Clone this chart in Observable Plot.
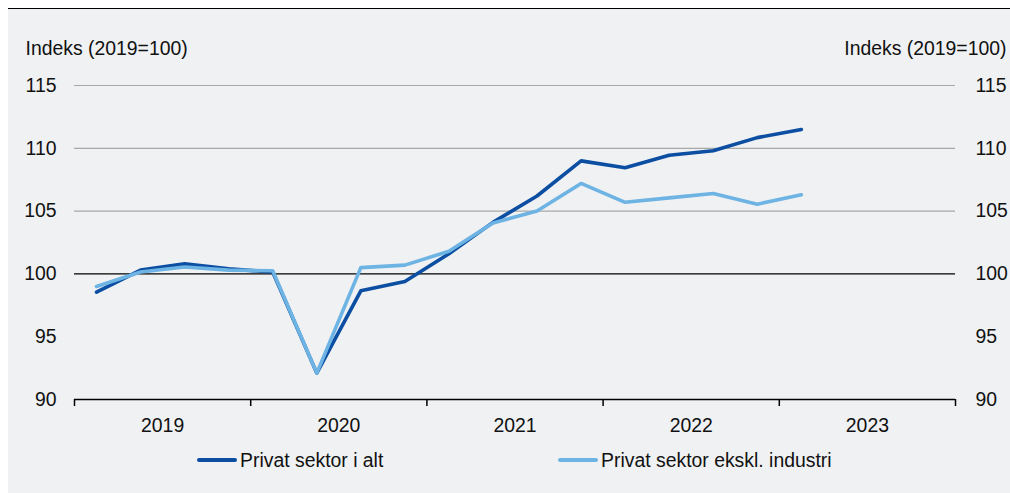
<!DOCTYPE html>
<html>
<head>
<meta charset="utf-8">
<script src="https://cdn.jsdelivr.net/npm/d3@7"></script>
<script src="https://cdn.jsdelivr.net/npm/@observablehq/plot@0.6"></script>
<style>
  html, body { margin: 0; padding: 0; background: #ffffff; }
  #wrap {
    position: absolute; left: 8px; top: 8px; width: 1002px; height: 485px;
    border-top: 1.5px solid #000; background: #f0f1f3;
    font-family: "Liberation Sans", Arial, sans-serif;
  }
  #chart svg { display: block; }
  #legend { position: relative; height: 40px; font-size: 19.4px; color: #111; }
  .item { position: absolute; top: 0; height: 40px; display: flex; align-items: center; }
  .sw { width: 40px; height: 4px; border-radius: 2px; margin-right: 3px; }
</style>
</head>
<body>
<div id="wrap">
  <div id="chart"></div>
  <div id="legend"></div>
</div>
<script>
const quarters = ["2019K1","2019K2","2019K3","2019K4","2020K1","2020K2","2020K3","2020K4",
  "2021K1","2021K2","2021K3","2021K4","2022K1","2022K2","2022K3","2022K4","2023K1"];
const privatIAlt = [98.55,100.3,100.8,100.4,100.15,92.1,98.65,99.4,101.6,104.1,106.2,109.0,108.45,109.45,109.8,110.85,111.5];
const privatEksklIndustri = [99.0,100.15,100.55,100.3,100.25,92.1,100.5,100.7,101.8,104.05,105.0,107.2,105.7,106.05,106.4,105.55,106.3];
const seriesNames = ["Privat sektor i alt","Privat sektor ekskl. industri"];
const seriesColors = ["#0b4ea2","#6db3e3"];
const years = [2019,2020,2021,2022,2023];
const yTicks = [90,95,100,105,110,115];
const axisTitle = "Indeks (2019=100)";

const qx = q => +q.slice(0,4) + (+q.slice(5) - 0.5) / 4;
const data = [];
[privatIAlt, privatEksklIndustri].forEach((vals, i) =>
  vals.forEach((v, j) => data.push({x: qx(quarters[j]), y: v, s: seriesNames[i]})));

const chart = Plot.plot({
  width: 1002, height: 431,
  marginLeft: 66, marginRight: 55, marginTop: 76, marginBottom: 41,
  style: {fontFamily: "Liberation Sans, Arial, sans-serif", fontSize: "19.4px", color: "#111", background: "transparent"},
  x: {domain: [2019, 2024], type: "linear", label: null},
  y: {domain: [90, 115], label: null},
  color: {domain: seriesNames, range: seriesColors},
  marks: [
    Plot.ruleY([105,110,115], {stroke: "#a8a8a8", strokeWidth: 1.2}),
    Plot.ruleY([100], {stroke: "#000", strokeWidth: 1.2}),
    Plot.ruleY([90], {stroke: "#000", strokeWidth: 1.5}),
    Plot.axisX({ticks: years.concat([2024]), tickSize: 7, tickFormat: () => "", stroke: "#000", strokeWidth: 1.5, label: null}),
    Plot.axisX({ticks: years.map(y => y + 0.5), tickSize: 0, tickPadding: 19, tickFormat: d => String(Math.floor(d)), label: null}),
    Plot.axisY({anchor: "left", ticks: yTicks, tickSize: 0, tickPadding: 18, label: null}),
    Plot.axisY({anchor: "right", ticks: yTicks, tickSize: 0, tickPadding: 20, label: null}),
    Plot.text([axisTitle], {frameAnchor: "top-left", dx: -49, dy: -37, textAnchor: "start", lineAnchor: "middle"}),
    Plot.text([axisTitle], {frameAnchor: "top-right", dx: 51, dy: -37, textAnchor: "end", lineAnchor: "middle"}),
    Plot.line(data, {x: "x", y: "y", z: "s", stroke: "s", strokeWidth: 3.6, strokeLinejoin: "round", strokeLinecap: "round"})
  ]
});
document.getElementById("chart").appendChild(chart);

const legend = document.getElementById("legend");
const lefts = [189, 550];
seriesNames.forEach((n, i) => {
  const d = document.createElement("div");
  d.className = "item";
  d.style.left = lefts[i] + "px";
  d.innerHTML = `<div class="sw" style="background:${seriesColors[i]}"></div><span>${n}</span>`;
  legend.appendChild(d);
});
</script>
</body>
</html>
